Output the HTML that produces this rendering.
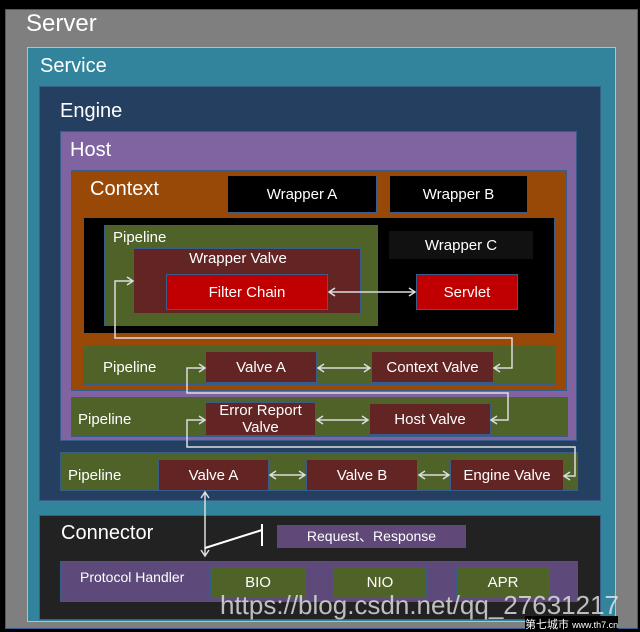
<!DOCTYPE html>
<html><head><style>
body{margin:0;background:#000;width:640px;height:632px;overflow:hidden;position:relative;font-family:"Liberation Sans","Noto Sans CJK SC",sans-serif;color:#fff}
div{position:absolute;box-sizing:border-box}
.b{border:1.5px solid #385d8a}
.t{display:flex;align-items:center;justify-content:center;font-size:15px;text-align:center;line-height:17px}
.g{background:#4f6228}.v{background:#632523}.k{background:#000}
</style></head><body>
<div class="b" style="left:5px;top:9px;width:633px;height:620px;background:#7f7f7f"></div>
<div style="left:26px;top:10px;font-size:24px">Server</div>
<div style="left:27px;top:47px;width:589px;height:575px;background:#31849b;border:1.5px solid #9cc"></div>
<div style="left:40px;top:55px;font-size:20px">Service</div>
<div class="b" style="left:39px;top:86px;width:562px;height:415px;background:#243f60"></div>
<div style="left:60px;top:100px;font-size:20px">Engine</div>
<div class="b" style="left:60px;top:131px;width:517px;height:310px;background:#8064a2"></div>
<div style="left:70px;top:139px;font-size:20px">Host</div>
<div class="b" style="left:71px;top:170px;width:496px;height:221px;background:#984807"></div>
<div style="left:90px;top:178px;font-size:20px">Context</div>
<div class="b k t" style="left:227px;top:175px;width:150px;height:38px">Wrapper A</div>
<div class="b k t" style="left:389px;top:175px;width:139px;height:38px">Wrapper B</div>
<div class="b k" style="left:83px;top:217px;width:472px;height:117px"></div>
<div class="t" style="left:389px;top:231px;width:144px;height:28px;background:#111">Wrapper C</div>
<div class="b g" style="left:104px;top:225px;width:274px;height:101px"></div>
<div style="left:113px;top:229px;font-size:15px">Pipeline</div>
<div class="b v" style="left:133px;top:248px;width:228px;height:66px"></div>
<div style="left:133px;top:250px;width:210px;text-align:center;font-size:15px">Wrapper Valve</div>
<div class="b t" style="left:166px;top:274px;width:162px;height:36px;background:#c00000">Filter Chain</div>
<div class="b t" style="left:416px;top:274px;width:102px;height:36px;background:#c00000">Servlet</div>
<div class="b g" style="left:83px;top:345px;width:473px;height:40px"></div>
<div style="left:103px;top:359px;font-size:15px">Pipeline</div>
<div class="b v t" style="left:205px;top:351px;width:112px;height:32px">Valve A</div>
<div class="b v t" style="left:371px;top:351px;width:123px;height:32px">Context Valve</div>
<div class="b g" style="left:71px;top:397px;width:497px;height:40px"></div>
<div style="left:78px;top:411px;font-size:15px">Pipeline</div>
<div class="b v t" style="left:205px;top:402px;width:111px;height:34px">Error Report<br>Valve</div>
<div class="b v t" style="left:369px;top:403px;width:122px;height:32px">Host Valve</div>
<div class="b g" style="left:60px;top:452px;width:518px;height:39px"></div>
<div style="left:68px;top:467px;font-size:15px">Pipeline</div>
<div class="b v t" style="left:158px;top:459px;width:111px;height:32px">Valve A</div>
<div class="b v t" style="left:306px;top:459px;width:112px;height:32px">Valve B</div>
<div class="b v t" style="left:450px;top:459px;width:114px;height:32px">Engine Valve</div>
<div class="b" style="left:39px;top:515px;width:562px;height:105px;background:#222"></div>
<div style="left:61px;top:522px;font-size:20px">Connector</div>
<div class="t" style="left:277px;top:525px;width:189px;height:23px;background:#604878;font-size:14px">Request、Response</div>
<div class="b" style="left:60px;top:561px;width:518px;height:41px;background:#5d4a7a"></div>
<div style="left:80px;top:569px;font-size:14px">Protocol Handler</div>
<div class="b g t" style="left:210px;top:567px;width:96px;height:31px">BIO</div>
<div class="b g t" style="left:333px;top:567px;width:94px;height:31px">NIO</div>
<div class="b g t" style="left:456px;top:567px;width:94px;height:31px">APR</div>
<svg width="640" height="632" style="position:absolute;left:0;top:0" fill="none" stroke="#ddd" stroke-width="1.5">
<polyline points="133,281 115,281 115,338 512,338 512,368 494,368"/>
<path d="M127,277l6,4l-6,4M500,364l-6,4l6,4"/>
<path d="M329,292H415M335,288l-6,4l6,4M409,288l6,4l-6,4"/>
<path d="M318,368H370M324,364l-6,4l6,4M364,364l6,4l-6,4"/>
<polyline points="205,368 187,368 187,393 508,393 508,420 491,420"/>
<path d="M199,364l6,4l-6,4M497,416l-6,4l6,4"/>
<path d="M317,420H368M323,416l-6,4l6,4M362,416l6,4l-6,4"/>
<polyline points="205,420 187,420 187,447 575,447 575,476 564,476"/>
<path d="M199,416l6,4l-6,4M570,472l-6,4l6,4"/>
<path d="M270,475H305M276,471l-6,4l6,4M299,471l6,4l-6,4"/>
<path d="M419,475H449M425,471l-6,4l6,4M443,471l6,4l-6,4"/>
<path d="M205,492V556M201,498l4,-6l4,6M201,550l4,6l4,-6"/>
<path d="M205,548L262,530M262,524V546" stroke="#fff" stroke-width="2"/>
</svg>
<div style="left:220px;top:590px;font-size:26px;color:rgba(230,230,230,0.8);white-space:nowrap">https://blog.csdn.net/qq_27631217</div>
<div style="left:525px;top:616px;font-size:11px;color:#fff;white-space:nowrap;background:#000">第七城市 <span style="font-size:9px">www.th7.cn</span></div>
</body></html>
